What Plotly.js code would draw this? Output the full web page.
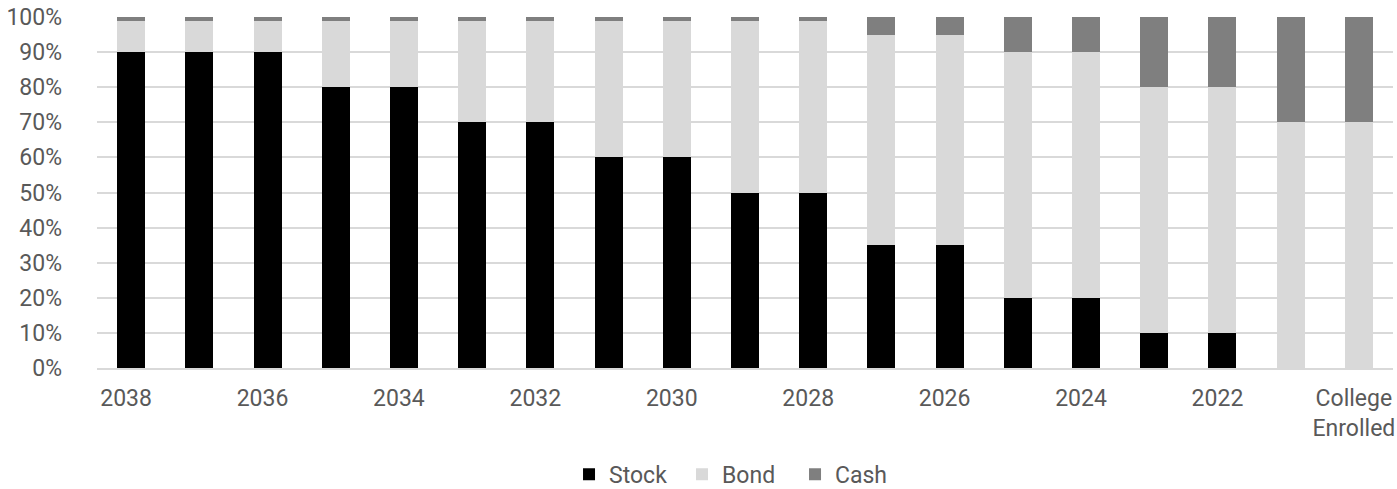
<!DOCTYPE html>
<html>
<head>
<meta charset="utf-8">
<script src="https://cdn.plot.ly/plotly-3.0.1.min.js"></script>
<style>html,body{margin:0;padding:0;background:#fff;}#chart{width:1397px;height:489px;}</style>
</head>
<body>
<div id="chart"></div>
<script>
const categories = ['2038','2037','2036','2035','2034','2033','2032','2031','2030','2029','2028','2027','2026','2025','2024','2023','2022','2021','College Enrolled'];
const stock = [90,90,90,80,80,70,70,60,60,50,50,35,35,20,20,10,10,0,0];
const bond  = [9,9,9,19,19,29,29,39,39,49,49,60,60,70,70,70,70,70,70];
const cash  = [1,1,1,1,1,1,1,1,1,1,1,5,5,10,10,20,20,30,30];
const tickCats = ['2038','2036','2034','2032','2030','2028','2026','2024','2022','College Enrolled'];
const tickLabels = ['2038','2036','2034','2032','2030','2028','2026','2024','2022','College<br>Enrolled'];
const yTicks = [0,10,20,30,40,50,60,70,80,90,100];
const yTickLabels = ['0%','10%','20%','30%','40%','50%','60%','70%','80%','90%','100%'];

const mk = (name, y, color) => ({
  type: 'bar', name: name, x: categories, y: y,
  marker: {color: color, line: {width: 0}},
  hoverinfo: 'skip'
});

const data = [mk('Stock', stock, '#000000'), mk('Bond', bond, '#d9d9d9'), mk('Cash', cash, '#7f7f7f')];

const layout = {
  width: 1397, height: 489,
  margin: {l: 97, r: 4, t: 17, b: 121, autoexpand: false},
  barmode: 'stack',
  bargap: 0.59,
  paper_bgcolor: '#fff', plot_bgcolor: '#fff',
  font: {family: 'Roboto, sans-serif', size: 23, color: '#595959'},
  showlegend: true,
  legend: {orientation: 'h', x: 0.495, xanchor: 'center', y: -0.303, yanchor: 'middle',
           font: {size: 23, color: '#595959'}, traceorder: 'normal', itemwidth: 30,
           entrywidth: 68},
  xaxis: {type: 'category', categoryorder: 'array', categoryarray: categories,
          tickmode: 'array', tickvals: tickCats, ticktext: tickLabels,
          showgrid: false, showline: true, linecolor: '#d9d9d9', linewidth: 2,
          ticks: '', ticklabelshift: -5, ticklabelstandoff: 8, fixedrange: true, automargin: false},
  yaxis: {range: [0, 100], tickmode: 'array', tickvals: yTicks, ticktext: yTickLabels,
          showgrid: true, gridcolor: '#d9d9d9', gridwidth: 2, zeroline: false,
          ticks: '', ticklabelstandoff: 34, fixedrange: true, automargin: false}
};

Plotly.newPlot('chart', data, layout, {displayModeBar: false, staticPlot: true});
</script>
</body>
</html>
